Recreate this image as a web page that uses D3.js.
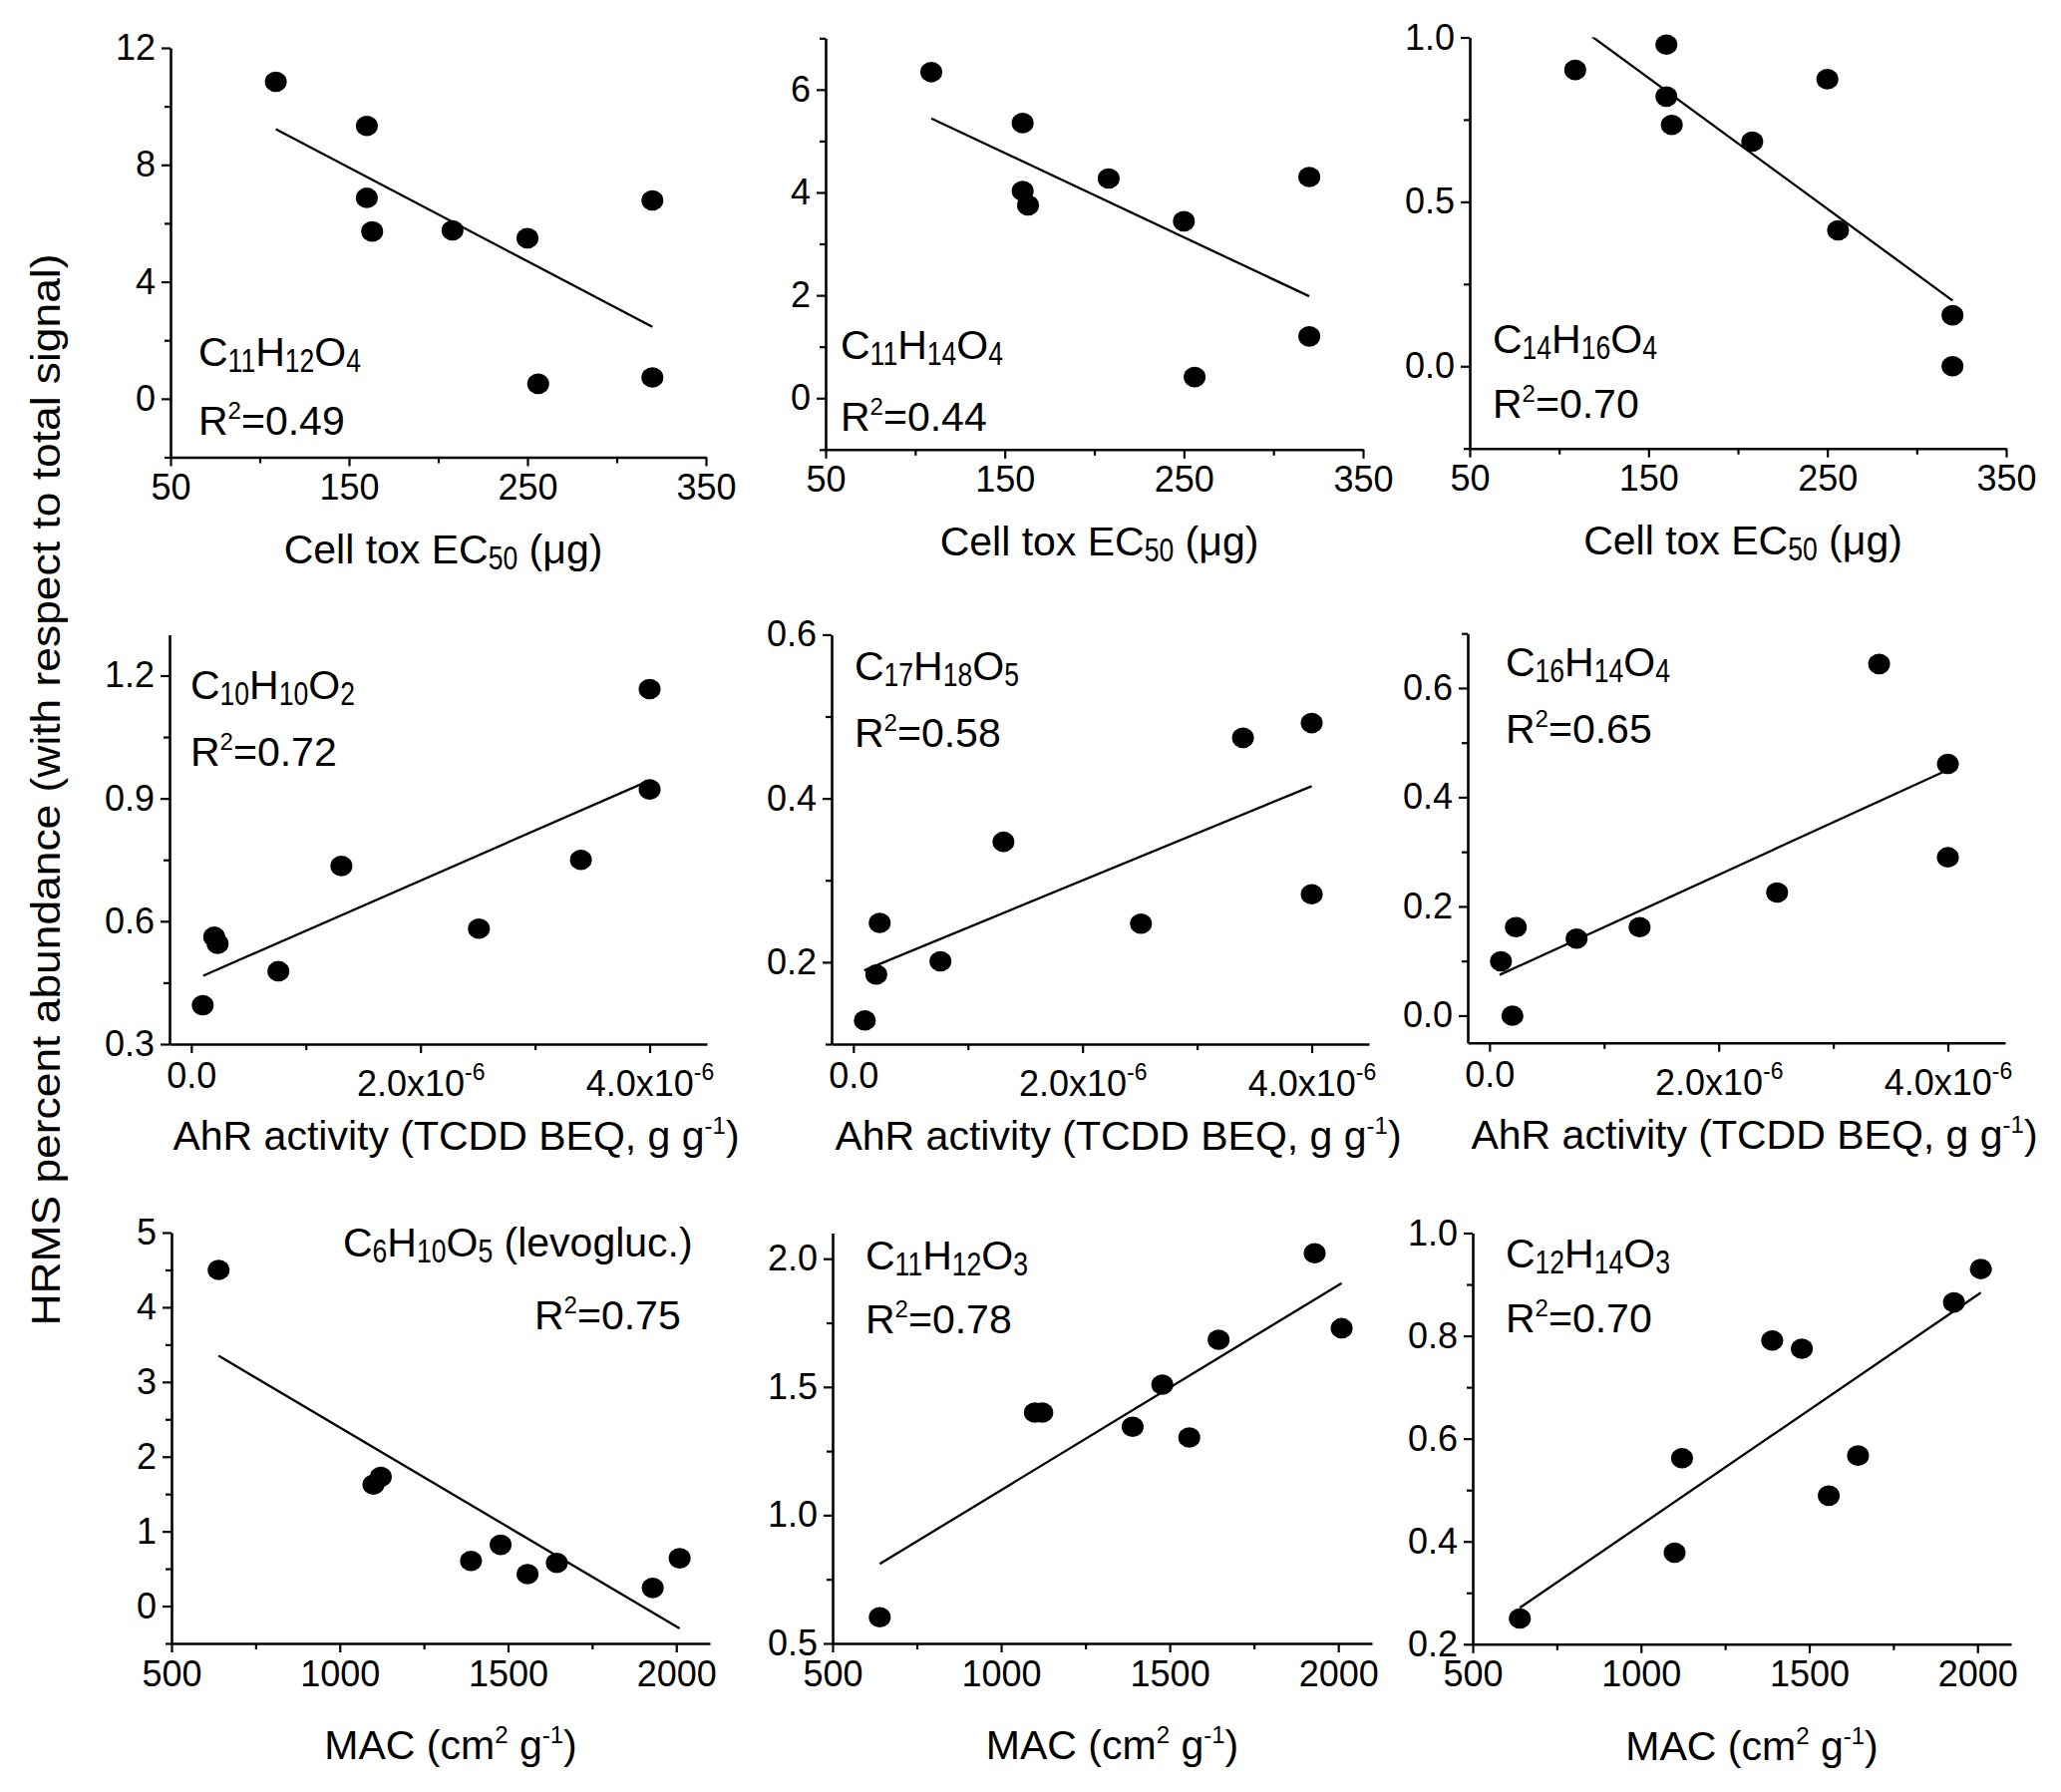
<!DOCTYPE html>
<html>
<head>
<meta charset="utf-8">
<script src="https://cdn.jsdelivr.net/npm/d3@7"></script>
<style>
  body { margin: 0; background: #fff; }
  svg { display: block; font-family: "Liberation Sans", Arial, sans-serif; }
</style>
</head>
<body>
<script>
// ---- data ----
const toxEC50 = [109, 160, 160, 163, 208, 250, 256, 320, 320];
const c11h12o4 = [10.84, 9.33, 6.87, 5.72, 5.76, 5.49, 0.51, 6.78, 0.73];
const c11h14o4 = [6.34, 5.35, 4.03, 3.75, 4.27, 3.44, 0.41, 4.30, 1.20];
const c14h16o4 = [0.901, 0.978, 0.820, 0.734, 0.683, 0.873, 0.413, 0.155, 0.0];

const ahrBEQ = [0.10e-6, 0.20e-6, 0.23e-6, 0.76e-6, 1.31e-6, 2.51e-6, 3.40e-6, 4.0e-6, 4.0e-6];
const c10h10o2 = [0.395, 0.562, 0.545, 0.478, 0.735, 0.582, 0.750, 1.167, 0.922];
const c17h18o5 = [0.129, 0.185, 0.248, 0.201, 0.347, 0.247, 0.474, 0.492, 0.283];
const c16h14o4 = [0.0995, 0.0, 0.162, 0.141, 0.162, 0.2255, 0.644, 0.461, 0.290];

const mac = [640, 1100, 1122, 1390, 1478, 1558, 1645, 1930, 2010];
const levogluc = [4.50, 1.625, 1.73, 0.604, 0.82, 0.428, 0.578, 0.243, 0.64];
const c11h12o3 = [0.602, 1.40, 1.40, 1.345, 1.509, 1.303, 1.684, 2.021, 1.729];
const c12h14o3 = [0.250, 0.378, 0.562, 0.791, 0.775, 0.489, 0.567, 0.865, 0.930];

// fitted lines (end points as drawn)
const fitC11H12O4 = [[109, 9.22], [320, 2.46]];
const fitC11H14O4 = [[109, 5.44], [320, 1.98]];
const fitC14H16O4 = [[109, 1.04], [320, 0.20]];
const fitC10H10O2 = [[0.104e-6, 0.467], [4.0e-6, 0.944]];
const fitC17H18O5 = [[0.094e-6, 0.190], [4.0e-6, 0.415]];
const fitC16H14O4 = [[0.088e-6, 0.0745], [4.0e-6, 0.45]];
const fitLevogluc = [[640, 3.35], [2010, -0.30]];
const fitC11H12O3 = [[640, 0.81], [2010, 1.905]];
const fitC12H14O3 = [[640, 0.271], [2010, 0.884]];

const r2Values = ["0.49", "0.44", "0.70", "0.72", "0.58", "0.65", "0.75", "0.78", "0.70"];

// ticks
const toxTicks = [50, 150, 250, 350], toxMinor = [100, 200, 300];
const ahrTicks = [0, 2e-6, 4e-6], ahrMinor = [1e-6, 3e-6];
const macTicks = [500, 1000, 1500, 2000], macMinor = [750, 1250, 1750];

// ---- layout ----
const W = 2067, H = 1797;
const svg = d3.select("body").append("svg").attr("width", W).attr("height", H);

// rich label: parts like ["C", "_11", "H"]; "_" = subscript (tall, condensed), "^" = superscript
function richText(parent, x, y, parts, anchor) {
  const g = parent.append("g").attr("fill", "#000");
  let cx = 0;
  parts.forEach(function(p) {
    const kind = p[0] === "_" ? "sub" : p[0] === "^" ? "sup" : "main";
    const txt = kind === "main" ? p : p.slice(1);
    const size = kind === "sub" ? 34 : kind === "sup" ? 24 : 41;
    const sx = kind === "sub" ? 0.78 : 1;
    const dy = kind === "sub" ? 6 : kind === "sup" ? -16 : 0;
    const t = g.append("text")
      .attr("font-size", size)
      .attr("style", "white-space:pre")
      .attr("transform", "translate(" + cx + "," + dy + ") scale(" + sx + ",1)")
      .text(txt);
    cx += t.node().getComputedTextLength() * sx;
  });
  const shift = anchor === "middle" ? -cx / 2 : 0;
  g.attr("transform", "translate(" + (x + shift) + "," + y + ")");
  return g;
}

const panels = [
  { xs: toxEC50, ys: c11h12o4, fit: fitC11H12O4, box: [171, 708, 48, 458.5], xd: [50, 350], yd: [-2, 12],
    xt: toxTicks, xm: toxMinor, yt: [0, 4, 8, 12], ym: [-2, 2, 6, 10], yf: "d",
    formula: ["C", "_11", "H", "_12", "O", "_4"], fpos: [199, 367], rpos: [199, 436], kind: "tox" },
  { xs: toxEC50, ys: c11h14o4, fit: fitC11H14O4, box: [828, 1367, 38.3, 450.8], xd: [50, 350], yd: [-1, 7],
    xt: toxTicks, xm: toxMinor, yt: [0, 2, 4, 6], ym: [-1, 1, 3, 5, 7], yf: "d",
    formula: ["C", "_11", "H", "_14", "O", "_4"], fpos: [843, 360], rpos: [843, 432], kind: "tox" },
  { xs: toxEC50, ys: c14h16o4, fit: fitC14H16O4, box: [1474, 2012, 37.5, 449.7], xd: [50, 350], yd: [-0.25, 1.0],
    xt: toxTicks, xm: toxMinor, yt: [0, 0.5, 1.0], ym: [-0.25, 0.25, 0.75], yf: ".1f",
    formula: ["C", "_14", "H", "_16", "O", "_4"], fpos: [1497, 354], rpos: [1497, 419], kind: "tox" },

  { xs: ahrBEQ, ys: c10h10o2, fit: fitC10H10O2, box: [170, 709, 636.4, 1047], xd: [-0.19e-6, 4.5e-6], yd: [0.3, 1.3],
    xt: ahrTicks, xm: ahrMinor, yt: [0.3, 0.6, 0.9, 1.2], ym: [0.45, 0.75, 1.05], yf: ".1f",
    formula: ["C", "_10", "H", "_10", "O", "_2"], fpos: [191, 701], rpos: [191, 768], kind: "ahr" },
  { xs: ahrBEQ, ys: c17h18o5, fit: fitC17H18O5, box: [834, 1373, 636.4, 1047], xd: [-0.19e-6, 4.5e-6], yd: [0.1, 0.6],
    xt: ahrTicks, xm: ahrMinor, yt: [0.2, 0.4, 0.6], ym: [0.1, 0.3, 0.5], yf: ".1f",
    formula: ["C", "_17", "H", "_18", "O", "_5"], fpos: [857, 682], rpos: [857, 749], kind: "ahr" },
  { xs: ahrBEQ, ys: c16h14o4, fit: fitC16H14O4, box: [1472, 2011, 635.2, 1045.8], xd: [-0.19e-6, 4.5e-6], yd: [-0.05, 0.7],
    xt: ahrTicks, xm: ahrMinor, yt: [0, 0.2, 0.4, 0.6], ym: [0.1, 0.3, 0.5, 0.7], yf: ".1f",
    formula: ["C", "_16", "H", "_14", "O", "_4"], fpos: [1510, 678], rpos: [1510, 745], kind: "ahr" },

  { xs: mac, ys: levogluc, fit: fitLevogluc, box: [172, 712, 1236, 1648], xd: [500, 2100], yd: [-0.5, 5],
    xt: macTicks, xm: macMinor, yt: [0, 1, 2, 3, 4, 5], ym: [-0.5, 0.5, 1.5, 2.5, 3.5, 4.5], yf: "d",
    formula: ["C", "_6", "H", "_10", "O", "_5", " (levogluc.)"], fpos: [344, 1260], rpos: [536, 1333], kind: "mac" },
  { xs: mac, ys: c11h12o3, fit: fitC11H12O3, box: [835, 1376, 1236.5, 1648], xd: [500, 2100], yd: [0.5, 2.1],
    xt: macTicks, xm: macMinor, yt: [0.5, 1.0, 1.5, 2.0], ym: [0.75, 1.25, 1.75], yf: ".1f",
    formula: ["C", "_11", "H", "_12", "O", "_3"], fpos: [868, 1273], rpos: [868, 1337], kind: "mac" },
  { xs: mac, ys: c12h14o3, fit: fitC12H14O3, box: [1477, 2017, 1236.5, 1648.8], xd: [500, 2100], yd: [0.2, 1.0],
    xt: macTicks, xm: macMinor, yt: [0.2, 0.4, 0.6, 0.8, 1.0], ym: [0.3, 0.5, 0.7, 0.9], yf: ".1f",
    formula: ["C", "_12", "H", "_14", "O", "_3"], fpos: [1510, 1271], rpos: [1510, 1336], kind: "mac" }
];

const xTitles = {
  tox: { parts: ["Cell tox EC", "_50", " (\u03bcg)"], dx: 5, dy: 106 },
  ahr: { parts: ["AhR activity (TCDD BEQ, g g", "^-1", ")"], dx: 18, dy: 106 },
  mac: { parts: ["MAC (cm", "^2", " g", "^-1", ")"], dx: 10, dy: 116 }
};

panels.forEach(function(p, i) {
  const [x0, x1, y0, y1] = p.box;
  const x = d3.scaleLinear().domain(p.xd).range([x0, x1]);
  const y = d3.scaleLinear().domain(p.yd).range([y1, y0]);
  const g = svg.append("g");

  const clipId = "clip" + i;
  svg.append("clipPath").attr("id", clipId)
    .append("rect").attr("x", x0).attr("y", y0).attr("width", x1 - x0).attr("height", y1 - y0);

  // minor ticks
  g.append("g").attr("transform", "translate(0," + y1 + ")")
    .call(d3.axisBottom(x).tickValues(p.xm).tickSize(6).tickSizeOuter(0).tickFormat(""))
    .call(s => s.select(".domain").remove());
  g.append("g").attr("transform", "translate(" + x0 + ",0)")
    .call(d3.axisLeft(y).tickValues(p.ym).tickSize(6).tickSizeOuter(0).tickFormat(""))
    .call(s => s.select(".domain").remove());

  // major axes
  const xa = g.append("g").attr("transform", "translate(0," + y1 + ")")
    .call(d3.axisBottom(x).tickValues(p.xt).tickSize(9).tickPadding(8).tickSizeOuter(0)
      .tickFormat(d3.format("d")));
  const ya = g.append("g").attr("transform", "translate(" + x0 + ",0)")
    .call(d3.axisLeft(y).tickValues(p.yt).tickSize(9).tickPadding(6).tickSizeOuter(0)
      .tickFormat(d3.format(p.yf)));

  [xa, ya].forEach(function(a) {
    a.attr("font-family", null).attr("font-size", 36);
    a.select(".domain").attr("stroke", "#000").attr("stroke-width", 2.6);
    a.selectAll("text").attr("fill", "#000");
  });
  g.selectAll(".tick line").attr("stroke", "#000").attr("stroke-width", 2.2);

  if (p.kind === "ahr") {
    xa.selectAll(".tick text").each(function(d) {
      const t = d3.select(this).text("").attr("dy", null);
      if (d === 0) {
        t.attr("y", 44).text("0.0");
      } else {
        t.attr("y", 52);
        t.append("tspan").text((d * 1e6).toFixed(1) + "x10");
        t.append("tspan").attr("dy", -16).attr("font-size", 23).text("-6");
      }
    });
  }

  // regression line
  g.append("path")
    .datum(p.fit)
    .attr("clip-path", "url(#" + clipId + ")")
    .attr("d", d3.line().x(d => x(d[0])).y(d => y(d[1])))
    .attr("fill", "none").attr("stroke", "#000").attr("stroke-width", 2.3);

  // points
  g.selectAll("ellipse.pt")
    .data(p.xs.map((v, k) => [v, p.ys[k]]))
    .enter().append("ellipse").attr("class", "pt")
    .attr("cx", d => x(d[0])).attr("cy", d => y(d[1]))
    .attr("rx", 11).attr("ry", 10.3)
    .attr("fill", "#000");

  // formula + R2 labels
  richText(g, p.fpos[0], p.fpos[1], p.formula);
  richText(g, p.rpos[0], p.rpos[1], ["R", "^2", "=" + r2Values[i]]);

  // x title
  const xt = xTitles[p.kind];
  richText(g, (x0 + x1) / 2 + xt.dx, y1 + xt.dy, xt.parts, "middle");
});

// shared y title
svg.append("text")
  .attr("transform", "translate(60,792) rotate(-90)")
  .attr("text-anchor", "middle")
  .attr("font-size", 40)
  .attr("textLength", 1075)
  .attr("lengthAdjust", "spacingAndGlyphs")
  .attr("fill", "#000")
  .text("HRMS percent abundance (with respect to total signal)");
</script>
</body>
</html>
